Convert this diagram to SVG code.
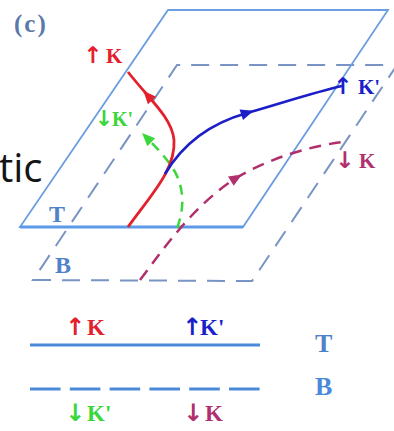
<svg xmlns="http://www.w3.org/2000/svg" xmlns:xlink="http://www.w3.org/1999/xlink" width="394" height="431" viewBox="0 0 394 431">
<style>
.lbl{font-family:"Liberation Serif","Times New Roman",serif;font-weight:bold}
.ar{font-family:"DejaVu Sans",sans-serif;font-weight:bold}
.plane{fill:none;stroke:#6b9ee0;stroke-width:1.8;stroke-linejoin:miter}
.planeB{fill:none;stroke:#7893c4;stroke-width:2;stroke-dasharray:18 11}
.red{fill:#e3202c}.blue{fill:#1c1fc8}.green{fill:#3ad63a}.mag{fill:#b0306e}
.pl{fill:#4f82c8}
</style>
<defs>
<path id="ah" d="M7,0 L-6,-5.5 L-6,5.5 Z"/>
</defs>
<rect width="394" height="431" fill="#ffffff"/>
<text x="-1" y="182" font-family="'Open Sans',sans-serif" font-size="40" fill="#141414">tic</text>
<text x="14" y="32" class="lbl" font-size="25" letter-spacing="2" fill="#5a78aa">(c)</text>
<g id="plane-bottom">
<polygon class="planeB" points="33,280 252,281 397,65 177,65"/>
<text x="55" y="273" class="lbl pl" font-size="24">B</text>
</g>
<g id="plane-top">
<polygon class="plane" points="20,227 243,227 388,10 168,10"/>
<line x1="20" y1="227" x2="243" y2="227" stroke="#5b9ae8" stroke-width="3"/>
<text x="49" y="222" class="lbl pl" font-size="24">T</text>
</g>
<g id="connectors">
<path d="M140,280 C170,240 195,205 236,178 C270,158 310,146 343,142" fill="none" stroke="#b0306e" stroke-width="2.5" stroke-dasharray="12 8"/>
<use xlink:href="#ah" class="mag" transform="translate(236,178) rotate(-31)"/>
<path d="M177,228 C186,205 183,183 172,167 C163,154 155,146 146,137" fill="none" stroke="#3ad63a" stroke-width="2.5" stroke-dasharray="10 7"/>
<use xlink:href="#ah" class="green" transform="translate(147,138) rotate(225)"/>
<path d="M128,227 C150,196 176,170 174,140 C172,118 150,100 128,72" fill="none" stroke="#e3202c" stroke-width="2.8"/>
<use xlink:href="#ah" class="red" transform="translate(148,96) rotate(228)"/>
<path d="M165,174 C185,140 215,122 247,113 S315,92 342,86" fill="none" stroke="#1c1fc8" stroke-width="2.8"/>
<use xlink:href="#ah" class="blue" transform="translate(247,113) rotate(-18)"/>
</g>
<g id="label-red-K">
<text class="lbl red" font-size="21" y="63"><tspan class="ar" font-size="23" x="93" text-anchor="middle">↑</tspan><tspan x="106">K</tspan></text>
</g>
<g id="label-green-K">
<text class="lbl green" font-size="20" y="126"><tspan class="ar" font-size="22" x="104" text-anchor="middle">↓</tspan><tspan x="112">K'</tspan></text>
</g>
<g id="label-blue-K">
<text class="lbl blue" font-size="21" y="94"><tspan class="ar" font-size="23" x="343" text-anchor="middle">↑</tspan><tspan x="358">K'</tspan></text>
</g>
<g id="label-mag-K">
<text class="lbl mag" font-size="21" y="168"><tspan class="ar" font-size="23" x="345" text-anchor="middle">↓</tspan><tspan x="359">K</tspan></text>
</g>
<g id="legend">
<line x1="30" y1="345" x2="260" y2="345" stroke="#4a8ad8" stroke-width="3"/>
<line x1="30" y1="389" x2="260" y2="389" stroke="#4a8ad8" stroke-width="3" stroke-dasharray="30.6 9.2"/>
<text class="lbl red" font-size="23" y="335"><tspan class="ar" font-size="24" x="75" text-anchor="middle">↑</tspan><tspan x="87">K</tspan></text>
<text class="lbl blue" font-size="23" y="335"><tspan class="ar" font-size="24" x="192" text-anchor="middle">↑</tspan><tspan x="200">K'</tspan></text>
<text class="lbl green" font-size="23" y="421"><tspan class="ar" font-size="24" x="75" text-anchor="middle">↓</tspan><tspan x="87">K'</tspan></text>
<text class="lbl mag" font-size="23" y="421"><tspan class="ar" font-size="24" x="193" text-anchor="middle">↓</tspan><tspan x="205">K</tspan></text>
<text x="315" y="352" class="lbl pl" font-size="26">T</text>
<text x="315" y="395" class="lbl" font-size="26" fill="#4a8ad8">B</text>
</g>
</svg>
